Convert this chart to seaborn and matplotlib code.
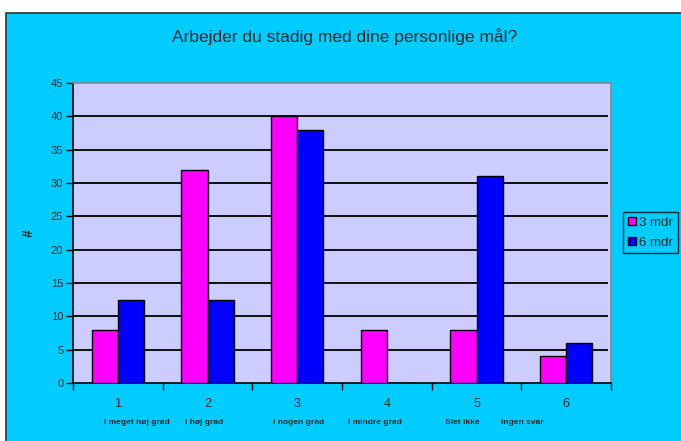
import matplotlib
matplotlib.use("Agg")
import matplotlib.pyplot as plt
import seaborn as sns
import pandas as pd
from matplotlib.patches import Rectangle
import matplotlib.transforms as mtransforms

categories = ["1", "2", "3", "4", "5", "6"]
answer_labels = ["I meget høj grad", "I høj grad", "I nogen grad", "I mindre grad", "Slet ikke", "Ingen svar"]
series_names = ["3 mdr", "6 mdr"]
values_3mdr = [8, 32, 40, 8, 8, 4]
values_6mdr = [12.5, 12.5, 38, 0, 31, 6]
yticks = [0, 5, 10, 15, 20, 25, 30, 35, 40, 45]
title = "Arbejder du stadig med dine personlige mål?"

df = pd.DataFrame({
    "kat": categories * 2,
    "serie": [series_names[0]] * 6 + [series_names[1]] * 6,
    "val": values_3mdr + values_6mdr,
})

sns.set_theme(style="white")
plt.rcParams['font.family'] = ['Liberation Sans', 'DejaVu Sans']

W, H = 681, 441
fig = plt.figure(figsize=(W / 100, H / 100), dpi=100, facecolor="white")
fig.patches.append(Rectangle((5.5 / W, -0.05), 1.2, 1 - 13 / H + 0.05, transform=fig.transFigure,
                             facecolor="#00CCFF", edgecolor="#333333", linewidth=1.2, zorder=-10))

left, right, top, bottom = 73, 611, 83, 383
ax = fig.add_axes([left / W, 1 - bottom / H, (right - left) / W, (bottom - top) / H])
ax.set_zorder(1)
ax.set_facecolor("#CCCCFF")

sns.barplot(data=df, x="kat", y="val", hue="serie", palette=["#FF00FF", "#0000FF"], saturation=1,
            width=0.58, edgecolor="black", linewidth=1.0, ax=ax, legend=True, zorder=3)

ax.set_xlim(-0.5, 5.5)
ax.set_ylim(0, 45)
ax.set_yticks(yticks)
ax.set_yticklabels([str(t) for t in yticks], fontsize=8)
for t in yticks[1:-1]:
    ax.hlines(t, -0.5, 5.47, color="black", linewidth=1.3, zorder=1)

ax.set_xticks(range(6))
ax.set_xticklabels(categories, fontsize=9)
ax.tick_params(axis="x", length=0, pad=11)
ax.set_xticks([i - 0.5 for i in range(7)], minor=True)
ax.tick_params(axis="x", which="minor", length=5, width=1, color="black", direction="out", bottom=True)
ax.tick_params(axis="y", length=5, width=1, color="black", direction="out", left=True, pad=2)
ax.set_xlabel("")
ax.set_ylabel("#", fontsize=10, fontweight="bold")
ax.yaxis.set_label_coords((36 - left) / (right - left), 0.5)

for s in ["left", "bottom"]:
    ax.spines[s].set_color("black")
    ax.spines[s].set_linewidth(1.2)
for s in ["top", "right"]:
    ax.spines[s].set_color("#888888")
    ax.spines[s].set_linewidth(1.2)

label_x = [0.213, 0.959, 2.017, 2.863, 3.843, 4.511]
trans = mtransforms.blended_transform_factory(ax.transData, fig.transFigure)
for x, lab in zip(label_x, answer_labels):
    fig.text(x, 1 - 423 / H, lab, transform=trans, fontsize=6, fontweight="bold", ha="center", va="center")

fig.text(345 / W, 1 - 37 / H, title, ha="center", va="center", fontsize=12.5)

leg = ax.legend(loc="upper left", bbox_to_anchor=(623 / W, 1 - 212 / H), bbox_transform=fig.transFigure,
                fontsize=9.5, frameon=True, fancybox=False, edgecolor="black", facecolor="#00CCFF",
                handlelength=0.6, handleheight=0.6, handletextpad=0.3, borderpad=0.35,
                labelspacing=0.6, borderaxespad=0)
leg.get_frame().set_linewidth(1.0)

fig.savefig("out.png", dpi=100, facecolor="white")
